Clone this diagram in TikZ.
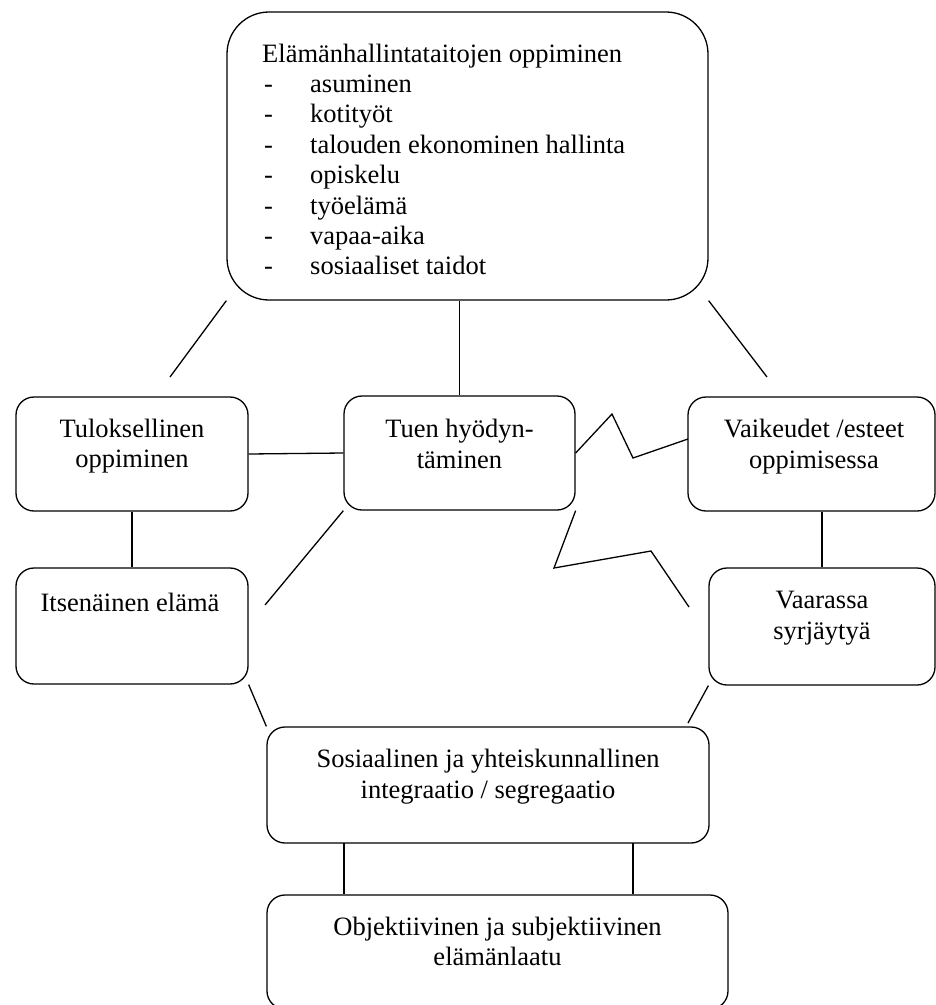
\documentclass[tikz,border=0pt]{standalone}
\usepackage{fontspec}
\setmainfont{Liberation Serif}
\begin{document}
\begin{tikzpicture}[x=1pt,y=-1pt,
  box/.style={draw, line width=1.3pt, rounded corners=18pt, inner sep=0pt},
  bigbox/.style={box, rounded corners=42pt},
  txt/.style={anchor=base, inner sep=0pt, font=\fontsize{26.5}{31}\selectfont},
  ltxt/.style={txt, anchor=base west},
  conn/.style={line width=1.3pt}]
\useasboundingbox (0,0) rectangle (936,1005);
% boxes
\node[bigbox, minimum width=481pt, minimum height=288pt] (top) at (467.5,156) {};
\node[box, minimum width=232pt, minimum height=114pt] (tul) at (132,454) {};
\node[box, minimum width=231pt, minimum height=114pt] (tuen) at (459.5,453) {};
\node[box, minimum width=247pt, minimum height=114pt] (vaik) at (811.5,454) {};
\node[box, minimum width=232pt, minimum height=116pt] (its) at (132,626) {};
\node[box, minimum width=226pt, minimum height=117pt] (vaar) at (822,626.5) {};
\node[box, minimum width=442pt, minimum height=116pt] (sos) at (488,785) {};
\node[box, minimum width=461pt, minimum height=114pt] (obj) at (497.5,952) {};
% texts
\node[ltxt] (t0) at (262,62) {Elämänhallintataitojen oppiminen};
\foreach \i/\s in {1/asuminen,2/kotityöt,3/talouden ekonominen hallinta,4/opiskelu,5/työelämä,6/vapaa-aika,7/sosiaaliset taidot}{
  \node[ltxt] (d\i) at (264,62+30.4*\i) {-};
  \node[ltxt] (t\i) at (310,62+30.4*\i) {\s};
}
\node[txt] (tul1) at (132,437) {Tuloksellinen};
\node[txt] (tul2) at (132,467) {oppiminen};
\node[txt] (tuen1) at (459.5,437) {Tuen hyödyn-};
\node[txt] (tuen2) at (459.5,468) {täminen};
\node[txt] (vaik1) at (814,437) {Vaikeudet /esteet};
\node[txt] (vaik2) at (814,468) {oppimisessa};
\node[txt] (its1) at (130,611) {Itsenäinen elämä};
\node[txt] (vaar1) at (822,608) {Vaarassa};
\node[txt] (vaar2) at (822,639) {syrjäytyä};
\node[txt] (sos1) at (488,767) {Sosiaalinen ja yhteiskunnallinen};
\node[txt] (sos2) at (488,798) {integraatio / segregaatio};
\node[txt] (obj1) at (497.5,935) {Objektiivinen ja subjektiivinen};
\node[txt] (obj2) at (497.5,965) {elämänlaatu};
% free ends
\coordinate (l1) at (170,377);
\coordinate (r1) at (767,377);
\coordinate (dl) at (265,605);
\coordinate (za) at (612,414);
\coordinate (zb) at (633,458);
\coordinate (zc) at (688,439);
\coordinate (ya) at (554,568);
\coordinate (yb) at (651,551);
\coordinate (yc) at (689,607);
\coordinate (vs) at (688,723);
\coordinate (sa) at (344,843);
\coordinate (sb) at (633,843);
% connectors
\draw[conn] (top.south west) -- (l1);
\draw[conn] (top.south east) -- (r1);
\draw[conn] (tuen.north) -- (tuen.north |- top.south);
\draw[conn] (tul.east) -- (tuen.west);
\draw[conn] (tul.south) -- (its.north);
\draw[conn] (tuen.south west) -- (dl);
\draw[conn] (tuen.east) -- (za) -- (zb) -- (zc);
\draw[conn] (tuen.south east) -- (ya) -- (yb) -- (yc);
\draw[conn] (vaar.north) -- (vaar.north |- vaik.south);
\draw[conn] (its.south east) -- (sos.north west);
\draw[conn] (vaar.south west) -- (vs);
\draw[conn] (sa) -- (sa |- obj.north);
\draw[conn] (sb) -- (sb |- obj.north);
\end{tikzpicture}
\end{document}
